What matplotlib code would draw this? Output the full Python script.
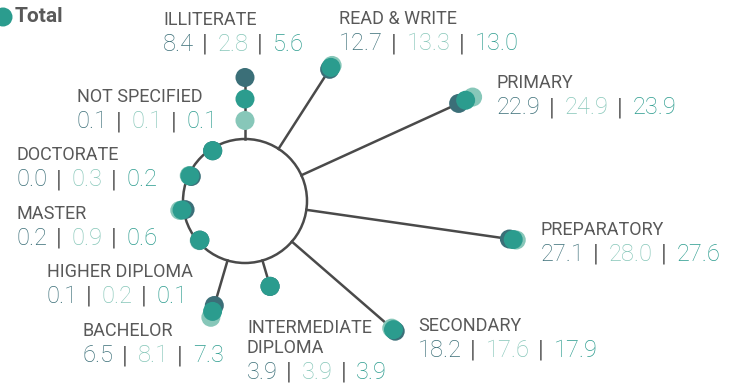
import numpy as np
import matplotlib.pyplot as plt
from matplotlib.patches import Circle

# education level shares (%) - male | female | total
categories = ['ILLITERATE', 'READ & WRITE', 'PRIMARY', 'PREPARATORY', 'SECONDARY',
              'INTERMEDIATE\nDIPLOMA', 'BACHELOR', 'HIGHER DIPLOMA', 'MASTER',
              'DOCTORATE', 'NOT SPECIFIED']
male = [8.4, 12.7, 22.9, 27.1, 18.2, 3.9, 6.5, 0.1, 0.2, 0.0, 0.1]
female = [2.8, 13.3, 24.9, 28.0, 17.6, 3.9, 8.1, 0.2, 0.9, 0.3, 0.1]
total = [5.6, 13.0, 23.9, 27.6, 17.9, 3.9, 7.3, 0.1, 0.6, 0.2, 0.1]

# layout (pixels): label x, baseline of first name line
label_pos = [(163, 25), (339, 24), (497, 88), (541, 235), (418, 331),
             (247, 333), (83, 336), (47, 277), (17, 219), (17, 160), (77, 102)]

dark = '#3b6f78'
light = '#87c7b9'
mid = '#2b9c8e'
line_c = '#4a4a4a'
gray = '#595959'

cx, cy = 245, 201     # hub centre
hub_r = 62
r0, k = 59, 7.68      # radial scale: r = r0 + k*value
dot_r = 9.5

name_font = dict(family=['Roboto', 'DejaVu Sans'], fontsize=13, color=gray)
num_font = dict(family=['Roboto', 'DejaVu Sans'], fontweight='light', fontsize=17)
sep_font = dict(family=['Roboto', 'DejaVu Sans'], fontsize=17, color='#6a6a6a')

fig = plt.figure(figsize=(7.45, 3.88), dpi=100)
ax = fig.add_axes([0, 0, 1, 1])
ax.set_xlim(0, 745)
ax.set_ylim(388, 0)
ax.axis('off')

n = len(categories)
ang = np.deg2rad(90 - np.arange(n) * 360 / n)


def pos(i, v):
    r = r0 + k * v
    return cx + r * np.cos(ang[i]), cy - r * np.sin(ang[i])


ax.add_patch(Circle((cx, cy), hub_r, fill=False, ec=line_c, lw=1.8, zorder=2))
for i in range(n):
    vmax = max(male[i], female[i], total[i])
    if r0 + k * vmax > hub_r:
        x0, y0 = cx + hub_r * np.cos(ang[i]), cy - hub_r * np.sin(ang[i])
        x1, y1 = pos(i, vmax)
        ax.plot([x0, x1], [y0, y1], color=line_c, lw=1.8, zorder=1)

for series, c in [(female, light), (male, dark), (total, mid)]:
    for i, v in enumerate(series):
        ax.add_patch(Circle(pos(i, v), dot_r, color=c, ec='none', zorder=3))


def value_line(x, y, vals):
    t = ax.text(x, y, f'{vals[0]:.1f}', color=dark, va='baseline', ha='left', **num_font)
    for v, c in [(vals[1], light), (vals[2], mid)]:
        t = ax.annotate('|', xy=(1, 0), xycoords=t, xytext=(6, 0), textcoords='offset points',
                        va='bottom', ha='left', **sep_font)
        t = ax.annotate(f'{v:.1f}', xy=(1, 0), xycoords=t, xytext=(7, 0),
                        textcoords='offset points', va='bottom', ha='left', color=c, **num_font)


for i, cat in enumerate(categories):
    x, y = label_pos[i]
    lines = cat.split('\n')
    for j, s in enumerate(lines):
        ax.text(x, y + 20 * j, s, va='baseline', ha='left', **name_font)
    value_line(x, y + 20 * (len(lines) - 1) + 26, [male[i], female[i], total[i]])

# legend (partly cut at the left edge)
ax.add_patch(Circle((3, 17), dot_r, color=mid, ec='none'))
ax.text(15, 17, 'Total', va='center', ha='left', fontsize=15, fontweight='bold',
        color=gray, family=['Roboto', 'DejaVu Sans'])

fig.savefig('out.png', dpi=100)
